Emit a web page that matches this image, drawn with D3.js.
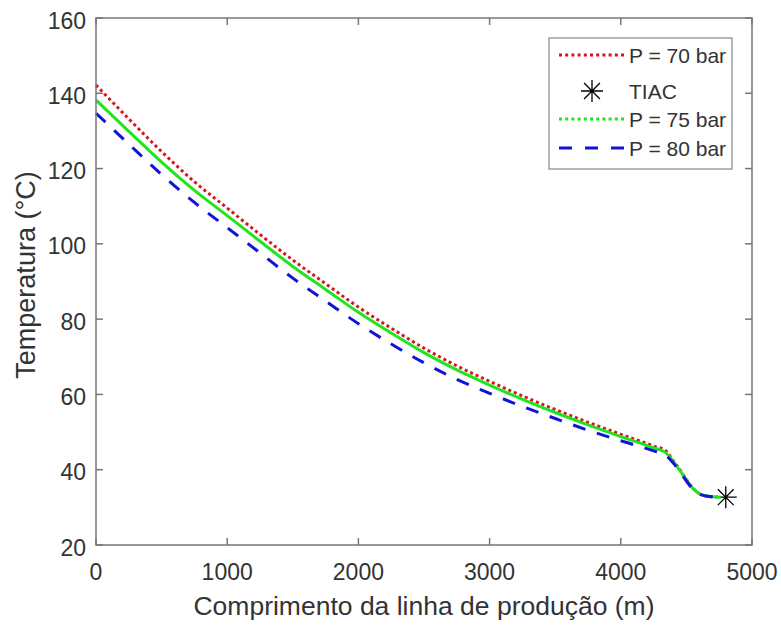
<!DOCTYPE html>
<html>
<head>
<meta charset="utf-8">
<script src="https://cdn.jsdelivr.net/npm/d3@7"></script>
<style>
    body { margin: 0; background: #fff; overflow: hidden; }
    svg { display: block; }
    text { font-family: "Liberation Sans", Arial, sans-serif; }
</style>
</head>
<body>
<svg class="chart-svg"></svg>
<script>
// dados
const comprimento = [0, 250, 500, 750, 1000, 1250, 1500, 1750, 2000, 2250, 2500, 2750, 3000, 3250, 3500, 3750, 4000, 4250, 4340, 4400, 4450, 4500, 4550, 4600, 4650, 4700, 4760];
const temp70 = [142.2, 133.2, 124.5, 116.5, 109.5, 102.5, 95.7, 89.4, 83.2, 77.6, 72.3, 67.6, 63.5, 59.6, 56.0, 52.6, 49.4, 46.3, 45.1, 42.4, 40.0, 37.4, 35.1, 33.6, 33.0, 32.8, 32.7];
const temp75 = [138.2, 129.9, 121.7, 114.2, 107.5, 100.7, 94.0, 87.9, 81.8, 76.3, 71.1, 66.5, 62.5, 58.7, 55.2, 51.9, 48.8, 45.8, 44.6, 42.2, 39.8, 37.3, 35.0, 33.6, 33.0, 32.8, 32.7];
const temp80 = [134.7, 126.5, 118.4, 111.0, 104.3, 97.6, 90.9, 84.8, 78.8, 73.4, 68.4, 64.0, 60.3, 56.8, 53.6, 50.5, 47.7, 45.0, 43.9, 41.8, 39.5, 37.0, 34.8, 33.5, 33.0, 32.8, 32.7];
const tiac = [4800, 32.7];
const xTicks = [0, 1000, 2000, 3000, 4000, 5000];
const yTicks = [20, 40, 60, 80, 100, 120, 140, 160];
const legendLabels = ['P = 70 bar', 'TIAC', 'P = 75 bar', 'P = 80 bar'];

let size = {width: 781, height: 626};
let margin = ({top: 18, right: 29, bottom: 81, left: 96});
const innerWidth = size.width - margin.left - margin.right;
const innerHeight = size.height - margin.top - margin.bottom;

let svg = d3.select(".chart-svg")
    .attr('width', size.width)
    .attr('height', size.height);

const axisColor = '#777';
const textColor = '#333';

// asterisco estilo MATLAB (+ e x)
function asterisk(cx, cy, r) {
    let d = r * 0.72;
    return `M${cx - r},${cy}L${cx + r},${cy}M${cx},${cy - r}L${cx},${cy + r}` +
        `M${cx - d},${cy - d}L${cx + d},${cy + d}M${cx - d},${cy + d}L${cx + d},${cy - d}`;
}

function main() {
    let x = d3.scaleLinear().domain([0, 5000]).range([0, innerWidth]);
    let y = d3.scaleLinear().domain([20, 160]).range([innerHeight, 0]);

    let g = svg.append('g')
        .attr('transform', `translate(${margin.left},${margin.top})`);

    let series = [
        {label: legendLabels[0], values: temp70, color: '#d8141c', width: 3, dash: '3,3'},
        {label: legendLabels[2], values: temp75, color: '#1ee61e', width: 3, dash: null},
        {label: legendLabels[3], values: temp80, color: '#1212d8', width: 3, dash: '13,12'}
    ];

    let line = d3.line()
        .x(d => x(d[0]))
        .y(d => y(d[1]))
        .curve(d3.curveMonotoneX);

    let drawSeries = s => {
        g.append('path')
            .datum(comprimento.map((c, i) => [c, s.values[i]]))
            .attr('d', line)
            .attr('fill', 'none')
            .attr('stroke', s.color)
            .attr('stroke-width', s.width)
            .attr('stroke-dasharray', s.dash);
    };

    // ordem: 70 bar, TIAC, 75 bar, 80 bar
    drawSeries(series[0]);
    g.append('path')
        .attr('d', asterisk(x(tiac[0]), y(tiac[1]), 11))
        .attr('stroke', '#000')
        .attr('stroke-width', 1.3)
        .attr('fill', 'none');
    drawSeries(series[1]);
    drawSeries(series[2]);

    // eixos (caixa com ticks nos quatro lados)
    let axes = g.append('g').attr('stroke', axisColor).attr('stroke-width', 1.5);
    axes.append('rect')
        .attr('width', innerWidth)
        .attr('height', innerHeight)
        .attr('fill', 'none');

    let tl = 7;
    xTicks.forEach(t => {
        axes.append('line').attr('x1', x(t)).attr('x2', x(t)).attr('y1', innerHeight).attr('y2', innerHeight - tl);
        axes.append('line').attr('x1', x(t)).attr('x2', x(t)).attr('y1', 0).attr('y2', tl);
    });
    yTicks.forEach(t => {
        axes.append('line').attr('y1', y(t)).attr('y2', y(t)).attr('x1', 0).attr('x2', tl);
        axes.append('line').attr('y1', y(t)).attr('y2', y(t)).attr('x1', innerWidth).attr('x2', innerWidth - tl);
    });

    g.selectAll('.xlab')
        .data(xTicks)
        .join('text')
        .attr('x', d => x(d))
        .attr('y', innerHeight + 35)
        .attr('text-anchor', 'middle')
        .attr('font-size', 23)
        .attr('fill', textColor)
        .text(d => d);

    g.selectAll('.ylab')
        .data(yTicks)
        .join('text')
        .attr('x', -10)
        .attr('y', d => y(d) + 10.5)
        .attr('text-anchor', 'end')
        .attr('font-size', 23)
        .attr('fill', textColor)
        .text(d => d);

    svg.append('text')
        .attr('x', margin.left + innerWidth / 2)
        .attr('y', 615)
        .attr('text-anchor', 'middle')
        .attr('font-size', 26.5)
        .attr('fill', textColor)
        .text('Comprimento da linha de produção (m)');

    svg.append('text')
        .attr('transform', 'translate(35,275) rotate(-90)')
        .attr('text-anchor', 'middle')
        .attr('font-size', 27)
        .attr('fill', textColor)
        .text('Temperatura (°C)');

    /* ============ */
    /* =- LEGEND -= */
    /* ============ */
    let legend = svg.append('g');
    legend.append('rect')
        .attr('x', 549).attr('y', 38)
        .attr('width', 183).attr('height', 131)
        .attr('fill', '#fff')
        .attr('stroke', '#888')
        .attr('stroke-width', 1.2);

    let rowsY = [55, 91, 119, 148];
    let legendItems = [
        {label: legendLabels[0], color: series[0].color, dash: '3,3.2'},
        {label: legendLabels[1], marker: true},
        {label: legendLabels[2], color: series[1].color, dash: '3,3.2'},
        {label: legendLabels[3], color: series[2].color, dash: '13,13'}
    ];
    legendItems.forEach((item, i) => {
        let cy = rowsY[i];
        if (item.marker) {
            legend.append('path')
                .attr('d', asterisk(592, cy, 11))
                .attr('stroke', '#000')
                .attr('stroke-width', 1.3)
                .attr('fill', 'none');
        } else {
            legend.append('line')
                .attr('x1', 559).attr('x2', 624)
                .attr('y1', cy).attr('y2', cy)
                .attr('stroke', item.color)
                .attr('stroke-width', 3)
                .attr('stroke-dasharray', item.dash);
        }
        legend.append('text')
            .attr('x', 629)
            .attr('y', cy + 7.5)
            .attr('font-size', 21)
            .attr('fill', textColor)
            .text(item.label);
    });
}

main();
</script>
</body>
</html>
